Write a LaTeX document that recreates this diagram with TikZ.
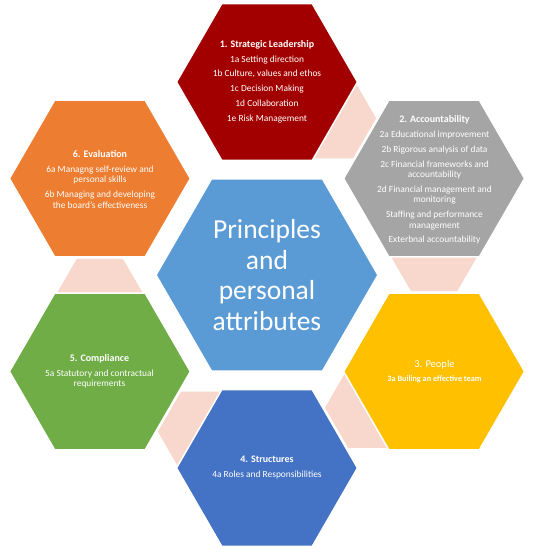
\documentclass[tikz,border=0pt]{standalone}
\usepackage{fontspec}
\setmainfont{Carlito}
\definecolor{cred}{HTML}{A20000}
\definecolor{cgray}{HTML}{A5A5A5}
\definecolor{corange}{HTML}{ED7D31}
\definecolor{cgreen}{HTML}{70AD47}
\definecolor{cyellow}{HTML}{FFC000}
\definecolor{cblue}{HTML}{4472C4}
\definecolor{clblue}{HTML}{5B9BD5}
\definecolor{cpink}{HTML}{F8D7CD}
\newcommand\hexagonat[4]{%
 \path[#1] ({#2+#4},{#3}) -- ({#2+0.5*#4},{#3+0.8660254*#4}) -- ({#2-0.5*#4},{#3+0.8660254*#4}) -- ({#2-#4},{#3}) -- ({#2-0.5*#4},{#3-0.8660254*#4}) -- ({#2+0.5*#4},{#3-0.8660254*#4}) -- cycle;}
\newcommand\hd[1]{{\fontsize{10}{10.5}\selectfont\bfseries #1}}
\begin{document}
\begin{tikzpicture}[x=1pt,y=-1pt,
  outerhex/.style={fill=#1,draw=white,line width=1.5pt,line join=miter},
  linkhex/.style={fill=cpink},
  hextext/.style={text=white,align=center,inner sep=0pt,font=\fontsize{9.4}{10.5}\selectfont},
  bigtext/.style={text=white,align=center,inner sep=0pt,font=\fontsize{27.5}{30.7}\selectfont}]
\useasboundingbox[fill=white] (0,0) rectangle (534,552);
% connector hexagons
\hexagonat{linkhex}{329.8}{118.3}{46.3}
\hexagonat{linkhex}{434.1}{251}{46.3}
\hexagonat{linkhex}{371.3}{407.7}{46.3}
\hexagonat{linkhex}{204.2}{431.7}{46.3}
\hexagonat{linkhex}{99.9}{299}{46.3}
% outer hexagons
\hexagonat{outerhex=cred}{267}{82}{90.5}
\hexagonat{outerhex=cgray}{434.1}{178.5}{90.5}
\hexagonat{outerhex=cyellow}{434.1}{371.5}{90.5}
\hexagonat{outerhex=cblue}{267}{468}{90.5}
\hexagonat{outerhex=cgreen}{99.9}{371.5}{90.5}
\hexagonat{outerhex=corange}{99.9}{178.5}{90.5}
% centre hexagon
\hexagonat{outerhex=clblue}{267}{275}{111}
% texts
\node[bigtext] (centre) at (267,275) {Principles\\and\\personal\\attributes};
\node[hextext] (lead) at (267,81.5) {\hd{1. Strategic Leadership}\\[4.3pt]1a Setting direction\\[4.3pt]1b Culture, values and ethos\\[4.3pt]1c Decision Making\\[4.3pt]1d Collaboration\\[4.3pt]1e Risk Management};
\node[hextext] (acc) at (434.5,180) {\hd{2. Accountability}\\[4.3pt]2a Educational improvement\\[4.3pt]2b Rigorous analysis of data\\[4.3pt]2c Financial frameworks and\\accountability\\[4.3pt]2d Financial management and\\monitoring\\[4.3pt]Staffing and performance\\management\\[4.3pt]Exterbnal accountability};
\node[hextext] (peop) at (434.5,371.5) {{\fontsize{10.5}{11}\selectfont 3. People}\\[3pt]{\fontsize{8.2}{9}\selectfont\bfseries 3a Builing an effective team}};
\node[hextext] (struct) at (267,467.5) {\hd{4. Structures}\\[4.3pt]4a Roles and Responsibilities};
\node[hextext] (comp) at (99.5,371.5) {\hd{5. Compliance}\\[4.3pt]5a Statutory and contractual\\requirements};
\node[hextext] (eval) at (100,179.5) {\hd{6. Evaluation}\\[4.3pt]6a Managng self-review and\\personal skills\\[4.3pt]6b Managing and developing\\the board's effectiveness};
\end{tikzpicture}
\end{document}
